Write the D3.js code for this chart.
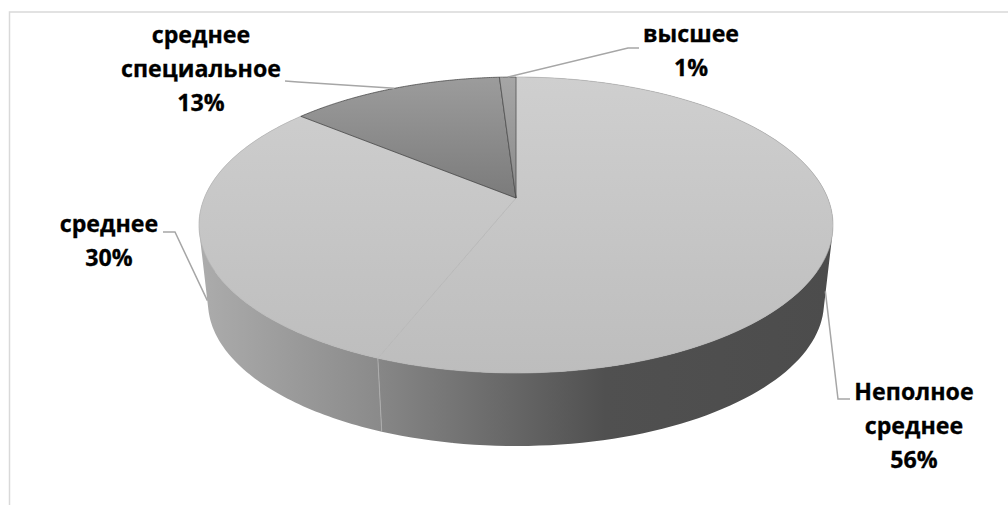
<!DOCTYPE html>
<html lang="ru">
<head>
    <meta charset="utf-8">
    <script src="https://d3js.org/d3.v7.min.js"></script>
    <style>
        html, body { margin: 0; padding: 0; background: #fff; overflow: hidden; }
        text { font-family: "Open Sans", sans-serif; font-weight: 700; font-size: 23.2px; fill: #000; stroke: #000; stroke-width: 0.3px; }
    </style>
</head>
<body>
    <div id="chart"></div>
    <script>
        // Data
        const categories = ['Неполное среднее', 'среднее', 'среднее специальное', 'высшее'];
        const values = [56, 30, 13, 1];
        const labelLines = [['Неполное', 'среднее', '56%'], ['среднее', '30%'], ['среднее', 'специальное', '13%'], ['высшее', '1%']];

        // Label placement: text centre x, first baseline y, leader elbow points, depth of anchor on the wall
        const labelX = [914, 109, 201, 691];
        const labelY = [400, 232, 43, 42];
        const leaderBends = [
            [[838, 399], [850, 399]],
            [[175, 232], [163, 232]],
            [[298, 82], [285, 81]],
            [[628, 48], [639, 48]]
        ];
        const wallDepth = [0.85, 0.85, 0, 0];

        const width = 1008, height = 505;

        // Perspective projection of the pie disc. u is to the right, v towards the viewer
        const k = 0.1824, apexX = 516;
        function project(angle, r, apexY, scale) {
            const u = r * Math.sin(angle), v = -r * Math.cos(angle);
            const w = 1 - k * v;
            return [apexX + scale * 311.7 * u / w, apexY + scale * 143.07 * v / w];
        }
        const topY = 198, bottomY = 276, bottomScale = 0.9716;
        const topPoint = (a, r = 1) => project(a, r, topY, 1);
        const bottomPoint = a => project(a, 1, bottomY, bottomScale);

        const svg = d3.select('#chart').append('svg')
            .attr('width', width)
            .attr('height', height);

        // Gradients
        const defs = svg.append('defs');
        function gradient(id, x1, y1, x2, y2, stops) {
            const g = defs.append('linearGradient').attr('id', id)
                .attr('gradientUnits', 'userSpaceOnUse')
                .attr('x1', x1).attr('y1', y1).attr('x2', x2).attr('y2', y2);
            stops.forEach(s => g.append('stop').attr('offset', s[0]).attr('stop-color', s[1]));
        }
        gradient('faceLight', 0, 77, 0, 373, [[0, '#cfcfcf'], [1, '#bdbdbd']]);
        gradient('faceDark', 0, 77, 0, 198, [[0, '#9c9c9c'], [1, '#7b7b7b']]);
        gradient('faceTiny', 0, 77, 0, 198, [[0, '#a6a6a6'], [1, '#8a8a8a']]);
        gradient('wallRight', 378, 0, 833, 0, [[0, '#878787'], [0.5, '#505050'], [1, '#4c4c4c']]);
        gradient('wallLeft', 199, 0, 381, 0, [[0, '#acacac'], [1, '#8a8a8a']]);

        const faceFill = ['url(#faceLight)', 'url(#faceLight)', 'url(#faceDark)', 'url(#faceTiny)'];
        const wallFill = ['url(#wallRight)', 'url(#wallLeft)', 'none', 'none'];
        const edgeColor = ['#b4b4b4', '#b4b4b4', '#3a3a3a', '#4a4a4a'];

        // Frame, only left and top edges are in the crop
        svg.append('path')
            .attr('d', d3.line()([[9.5, height], [9.5, 12], [width, 12]]))
            .attr('fill', 'none')
            .attr('stroke', '#d9d9d9')
            .attr('stroke-width', 1.5);

        const pie = d3.pie().sort(null)(values);
        const line = d3.line();

        function rimAngles(d) {
            return d3.range(0, 121).map(i => d.startAngle + (d.endAngle - d.startAngle) * i / 120);
        }

        // Side wall, built of small quads so the silhouette reaches the tangent edges
        function wallPath(d) {
            const a = rimAngles(d);
            return a.slice(1).map((x, i) => {
                const quad = [topPoint(a[i]), topPoint(x), bottomPoint(x), bottomPoint(a[i])];
                if (d3.polygonArea(quad) < 0) quad.reverse();
                return line(quad) + 'Z';
            }).join('');
        }
        svg.append('g').selectAll('path')
            .data(pie)
            .join('path')
            .attr('d', wallPath)
            .attr('fill', (d, i) => wallFill[i]);

        // Seam on the wall between the two front slices
        svg.append('line')
            .datum(pie[0].endAngle)
            .attr('x1', a => topPoint(a)[0]).attr('y1', a => topPoint(a)[1])
            .attr('x2', a => bottomPoint(a)[0]).attr('y2', a => bottomPoint(a)[1])
            .attr('stroke', '#adadad')
            .attr('stroke-width', 1);

        // Top face
        svg.append('g').selectAll('path')
            .data(pie)
            .join('path')
            .attr('d', d => line([topPoint(0, 0)].concat(rimAngles(d).map(x => topPoint(x)))) + 'Z')
            .attr('fill', (d, i) => faceFill[i])
            .attr('stroke', (d, i) => edgeColor[i])
            .attr('stroke-width', 0.7)
            .attr('stroke-linejoin', 'round');

        // Leader lines start on the rim or down the wall at each slice's mid angle
        function anchor(d, i) {
            const a = (d.startAngle + d.endAngle) / 2;
            const t = topPoint(a), b = bottomPoint(a);
            return [t[0] + (b[0] - t[0]) * wallDepth[i], t[1] + (b[1] - t[1]) * wallDepth[i]];
        }
        svg.append('g').selectAll('path')
            .data(pie)
            .join('path')
            .attr('d', (d, i) => line([anchor(d, i)].concat(leaderBends[i])))
            .attr('fill', 'none')
            .attr('stroke', '#a6a6a6')
            .attr('stroke-width', 1.5);

        // Labels
        const labels = svg.append('g').selectAll('text')
            .data(categories)
            .join('text')
            .attr('text-anchor', 'middle')
            .attr('y', (d, i) => labelY[i]);
        labels.selectAll('tspan')
            .data((d, i) => labelLines[i].map(t => ({ t, i })))
            .join('tspan')
            .attr('x', d => labelX[d.i])
            .attr('dy', (d, j) => j === 0 ? 0 : 34)
            .text(d => d.t);
    </script>
</body>
</html>
